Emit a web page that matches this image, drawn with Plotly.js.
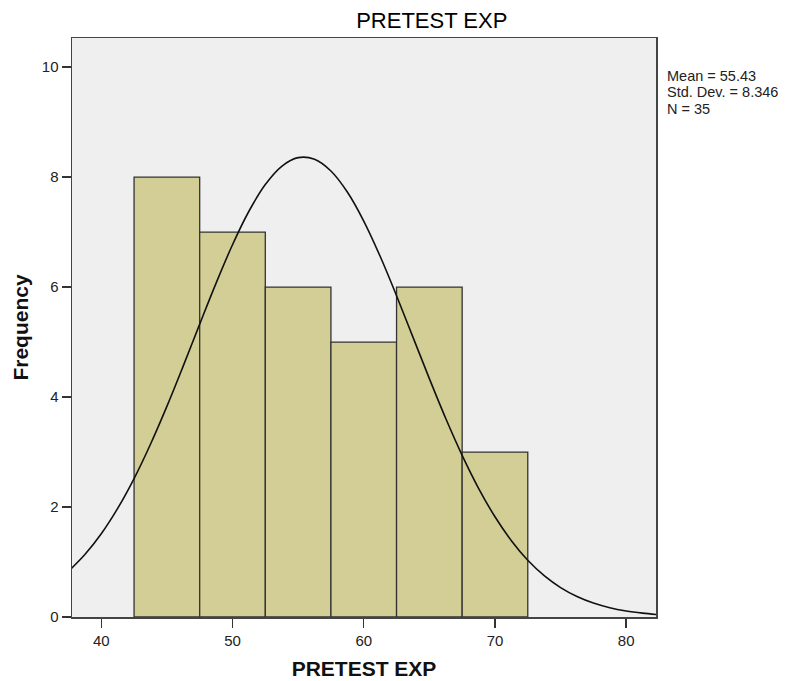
<!DOCTYPE html>
<html>
<head>
<meta charset="utf-8">
<script src="https://cdn.plot.ly/plotly-3.0.1.min.js"></script>
<style>html,body{margin:0;padding:0;background:#fff;}#chart{width:790px;height:681px;}</style>
</head>
<body>
<div id="chart"></div>
<script>
var binCenters = [45, 50, 55, 60, 65, 70];
var frequencies = [8, 7, 6, 5, 6, 3];
var curveX = [37.7, 38.75, 40, 41.25, 42.5, 43.75, 45, 46.25, 47.5, 48.75, 50, 51.25, 52.5, 53.75, 55, 56.25, 57.5, 58.75, 60, 61.25, 62.5, 63.75, 65, 66.25, 67.5, 68.75, 70, 71.25, 72.5, 73.75, 75, 76.25, 77.5, 78.75, 80, 81.25, 82.3];
var curveY = [0.877, 1.135, 1.514, 1.975, 2.518, 3.142, 3.830, 4.568, 5.326, 6.072, 6.770, 7.379, 7.865, 8.197, 8.354, 8.325, 8.112, 7.729, 7.201, 6.560, 5.843, 5.090, 4.335, 3.610, 2.940, 2.341, 1.823, 1.388, 1.032, 0.752, 0.535, 0.373, 0.254, 0.169, 0.110, 0.070, 0.045];
var xTicks = [40, 50, 60, 70, 80];
var yTicks = [0, 2, 4, 6, 8, 10];
var statsLines = ["Mean = 55.43", "Std. Dev. = 8.346", "N = 35"];
var titleText = "PRETEST EXP";
var xTitle = "PRETEST EXP";
var yTitle = "Frequency";

var font = "Liberation Sans, Arial, sans-serif";
var traces = [
  {type: "bar", x: binCenters, y: frequencies, width: 5,
   marker: {color: "#D2CE96", line: {color: "#333333", width: 1.3}},
   hoverinfo: "none"},
  {type: "scatter", mode: "lines", x: curveX, y: curveY,
   line: {color: "#111", width: 1.6, shape: "spline"}, hoverinfo: "none"}
];
var statsY = [0.9352, 0.9067, 0.8782];
var annotations = statsLines.map(function (s, i) {
  return {text: s, xref: "paper", yref: "paper", x: 1.015, y: statsY[i],
          xanchor: "left", yanchor: "middle", align: "left", showarrow: false,
          font: {family: font, size: 14.5, color: "#222"}};
});
var layout = {
  width: 790, height: 681,
  margin: {l: 72, r: 134, t: 38, b: 64},
  paper_bgcolor: "#ffffff", plot_bgcolor: "#EFEFEF",
  showlegend: false, bargap: 0,
  font: {family: font, size: 15, color: "#222"},
  title: {text: titleText, font: {family: font, size: 22, color: "#000"},
          x: 0.616, xref: "paper", xanchor: "center", y: 0.9706, yref: "container", yanchor: "middle"},
  xaxis: {range: [37.77, 82.27], tickvals: xTicks, ticks: "outside", ticklen: 9, tickwidth: 1.5, tickcolor: "#333",
          showgrid: false, zeroline: false, showline: true, linecolor: "#444", linewidth: 1.5, mirror: true,
          tickfont: {family: font, size: 15, color: "#222"},
          title: {text: "<b>" + xTitle + "</b>", font: {family: font, size: 21, color: "#111"}, standoff: 14}},
  yaxis: {range: [0, 10.53], tickvals: yTicks, ticks: "outside", ticklen: 9, tickwidth: 1.5, tickcolor: "#333",
          showgrid: false, zeroline: false, showline: true, linecolor: "#444", linewidth: 1.5, mirror: true,
          tickfont: {family: font, size: 15, color: "#222"},
          title: {text: "<b>" + yTitle + "</b>", font: {family: font, size: 21, color: "#111"}, standoff: 7}},
  annotations: annotations
};
Plotly.newPlot("chart", traces, layout, {staticPlot: true});
</script>
</body>
</html>
